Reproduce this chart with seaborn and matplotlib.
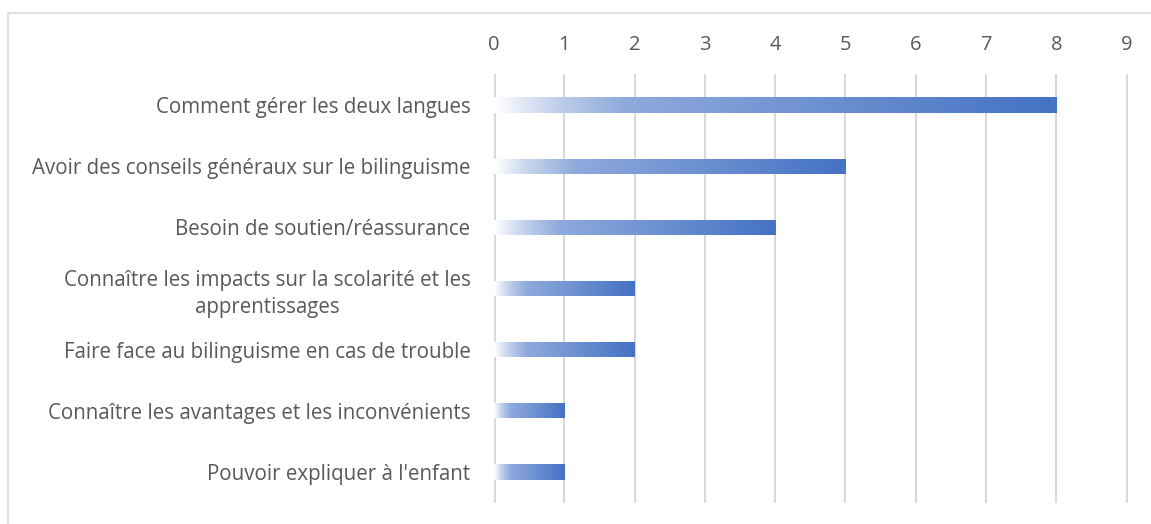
import numpy as np
import pandas as pd
import seaborn as sns
import matplotlib.pyplot as plt
from matplotlib.colors import LinearSegmentedColormap
from matplotlib.patches import Rectangle

# Data
categories = [
    "Comment gérer les deux langues",
    "Avoir des conseils généraux sur le bilinguisme",
    "Besoin de soutien/réassurance",
    "Connaître les impacts sur la scolarité et les\napprentissages",
    "Faire face au bilinguisme en cas de trouble",
    "Connaître les avantages et les inconvénients",
    "Pouvoir expliquer à l'enfant",
]
counts = [8, 5, 4, 2, 2, 1, 1]
x_ticks = list(range(0, 10))

df = pd.DataFrame({"Besoin": categories, "Nombre": counts})

sns.set_style("white")
plt.rcParams["font.family"] = ["Open Sans", "DejaVu Sans"]
text_color = "#595959"

fig = plt.figure(figsize=(11.51, 5.24), dpi=100)
ax = fig.add_axes([494 / 1151, 1 - 502.6 / 524, (1128 - 494) / 1151, (502.6 - 74.4) / 524])

sns.barplot(data=df, x="Nombre", y="Besoin", orient="h", width=0.25,
            color="#4472C4", ax=ax, zorder=3)

# gradient fill: white -> light blue -> office blue, along each bar
cmap = LinearSegmentedColormap.from_list(
    "grad", [(0, "#FFFFFF"), (0.1, "#C5D3EC"), (0.23, "#8FAADC"), (1, "#4472C4")])
grad = np.linspace(0, 1, 256).reshape(1, -1)
for p in ax.patches:
    x0, y0 = p.get_x(), p.get_y()
    w, h = p.get_width(), p.get_height()
    p.set_facecolor("none")
    p.set_edgecolor("none")
    im = ax.imshow(grad, extent=[x0, x0 + w, y0 + h, y0], aspect="auto",
                   cmap=cmap, zorder=3, interpolation="bilinear")
    im.set_clip_path(p)

ax.set_xlim(0, 9.02)
ax.set_ylim(6.5, -0.5)
ax.set_xticks(x_ticks)
ax.xaxis.tick_top()
ax.grid(axis="x", color="#D9D9D9", linewidth=1.5, zorder=0)
ax.axvline(0, color="#D9D9D9", linewidth=3, zorder=1)
for s in ax.spines.values():
    s.set_visible(False)

ax.tick_params(axis="x", length=0, pad=14, labelsize=14.5, labelcolor=text_color)
ax.tick_params(axis="y", length=0, pad=17, labelsize=14.8, labelcolor=text_color)
for lab in ax.get_yticklabels():
    lab.set_multialignment("center")
    lab.set_linespacing(1.35)
ax.set_xlabel("")
ax.set_ylabel("")

# light chart frame
fig.add_artist(Rectangle((8 / 1151, -0.1), 1.2, 1 - 13 / 524 + 0.1,
                         transform=fig.transFigure, fill=False,
                         edgecolor="#D9D9D9", linewidth=1.2))

fig.savefig("out.png", dpi=100)
